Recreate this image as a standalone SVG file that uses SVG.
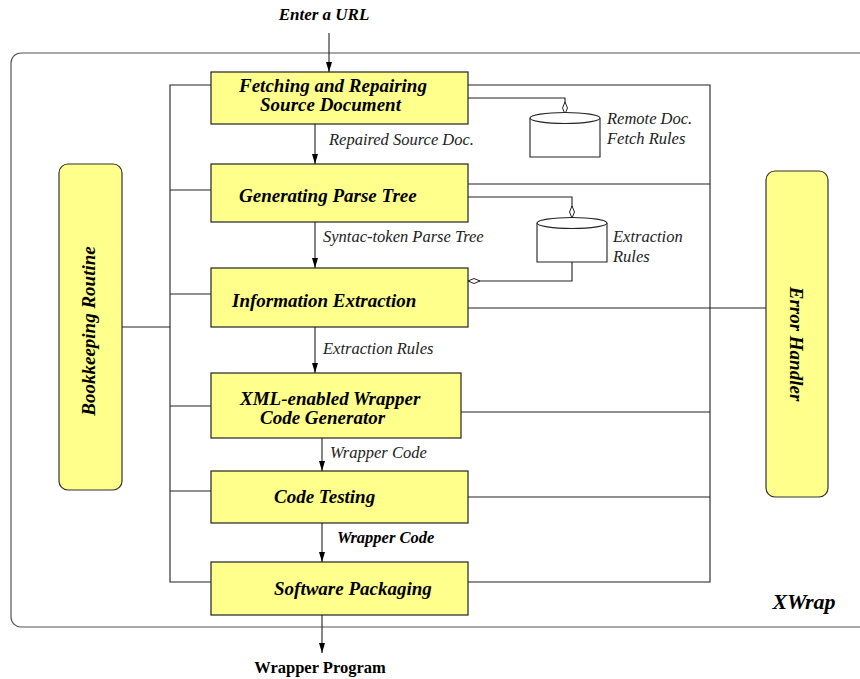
<svg xmlns="http://www.w3.org/2000/svg" width="860" height="679" viewBox="0 0 860 679">
<defs>
<style>
.box{fill:#ffff8c;stroke:#222;stroke-width:1.2}
.rbox{fill:#ffff8c;stroke:#333;stroke-width:1.2}
.ln{fill:none;stroke:#222;stroke-width:1.1}
.cyl{fill:#fff;stroke:#222;stroke-width:1.1}
.bt{font-family:"Liberation Serif",serif;font-weight:bold;font-style:italic;font-size:19px;fill:#000}
.lb{font-family:"Liberation Serif",serif;font-style:italic;font-size:16.5px;fill:#222}
.lbb{font-family:"Liberation Serif",serif;font-weight:bold;font-style:italic;font-size:16.5px;fill:#000}
</style>
<marker id="ar" markerWidth="10" markerHeight="8" refX="10" refY="4" orient="auto" markerUnits="userSpaceOnUse">
<path d="M0,1 L10,4 L0,7 Z" fill="#000"/>
</marker>
<marker id="od" markerWidth="14" markerHeight="8" refX="13" refY="4" orient="auto" markerUnits="userSpaceOnUse">
<path d="M1,4 L7,1.5 L13,4 L7,6.5 Z" fill="#fff" stroke="#222" stroke-width="1"/>
</marker>
</defs>
<rect width="860" height="679" fill="#fff"/>
<g id="xwrap-frame">
<rect x="11" y="53" width="900" height="574" rx="10" fill="none" stroke="#555" stroke-width="1.2"/>
<text x="804" y="609" text-anchor="middle" style="font-family:'Liberation Serif',serif;font-weight:bold;font-style:italic;font-size:22px">XWrap</text>
</g>
<g id="connectors">
<path class="ln" d="M329,33 V72" marker-end="url(#ar)"/>
<path class="ln" d="M315,124 V164" marker-end="url(#ar)"/>
<path class="ln" d="M315,222 V268" marker-end="url(#ar)"/>
<path class="ln" d="M315,327 V373" marker-end="url(#ar)"/>
<path class="ln" d="M322,438 V471" marker-end="url(#ar)"/>
<path class="ln" d="M322,523 V562" marker-end="url(#ar)"/>
<path class="ln" d="M322,615 V653" marker-end="url(#ar)"/>
<path class="ln" d="M468,85 H710 V582 H468"/>
<path class="ln" d="M468,184 H710"/>
<path class="ln" d="M461,412 H710"/>
<path class="ln" d="M468,497 H710"/>
<path class="ln" d="M468,308 H766"/>
<path class="ln" d="M468,98 H565 V114" marker-end="url(#od)"/>
<path class="ln" d="M468,197 H572 V218" marker-end="url(#od)"/>
<path class="ln" d="M572,262 V281 H468" marker-end="url(#od)"/>
<path class="ln" d="M211,85 H170 V582 H211"/>
<path class="ln" d="M170,190 H211 M170,294 H211 M170,406 H211 M170,491 H211"/>
<path class="ln" d="M122,327 H170"/>
<text class="lb" x="329" y="145">Repaired Source Doc.</text>
<text class="lb" x="323" y="242">Syntac-token Parse Tree</text>
<text class="lb" x="323" y="354">Extraction Rules</text>
<text class="lb" x="330" y="458">Wrapper Code</text>
<text class="lbb" x="337" y="543">Wrapper Code</text>
<text class="lbb" x="324" y="20" text-anchor="middle" style="font-size:17px">Enter a URL</text>
<text x="320" y="673" text-anchor="middle" style="font-family:'Liberation Serif',serif;font-weight:bold;font-size:16.5px">Wrapper Program</text>
</g>
<g id="fetch">
<rect class="box" x="211" y="72" width="257" height="52"/>
<text class="bt" x="239" y="92">Fetching and Repairing</text>
<text class="bt" x="260" y="111">Source Document</text>
</g>
<g id="parse">
<rect class="box" x="211" y="164" width="257" height="58"/>
<text class="bt" x="239" y="202">Generating Parse Tree</text>
</g>
<g id="extract">
<rect class="box" x="211" y="268" width="257" height="59"/>
<text class="bt" x="232" y="307">Information Extraction</text>
</g>
<g id="codegen">
<rect class="box" x="211" y="373" width="250" height="65"/>
<text class="bt" x="240" y="405">XML-enabled Wrapper</text>
<text class="bt" x="260" y="424">Code Generator</text>
</g>
<g id="testing">
<rect class="box" x="211" y="471" width="257" height="52"/>
<text class="bt" x="274" y="503">Code Testing</text>
</g>
<g id="packaging">
<rect class="box" x="211" y="562" width="257" height="53"/>
<text class="bt" x="274" y="595">Software Packaging</text>
</g>
<g id="remote-rules">
<path class="cyl" d="M530,118 V157 H600 V118"/>
<ellipse class="cyl" cx="565" cy="118" rx="35" ry="5.5"/>
<text class="lb" x="607" y="124">Remote Doc.</text>
<text class="lb" x="607" y="144">Fetch Rules</text>
</g>
<g id="extraction-rules">
<path class="cyl" d="M537,223 V262 H607 V223"/>
<ellipse class="cyl" cx="572" cy="223" rx="35" ry="5.5"/>
<text class="lb" x="613" y="242">Extraction</text>
<text class="lb" x="613" y="262">Rules</text>
</g>
<g id="bookkeeping">
<rect class="rbox" x="59" y="164" width="63" height="326" rx="9"/>
<text class="bt" transform="translate(95,331) rotate(-90)" text-anchor="middle">Bookkeeping Routine</text>
</g>
<g id="error-handler">
<rect class="rbox" x="766" y="171" width="62" height="326" rx="9"/>
<text class="bt" transform="translate(790,344) rotate(90)" text-anchor="middle">Error  Handler</text>
</g>
</svg>
